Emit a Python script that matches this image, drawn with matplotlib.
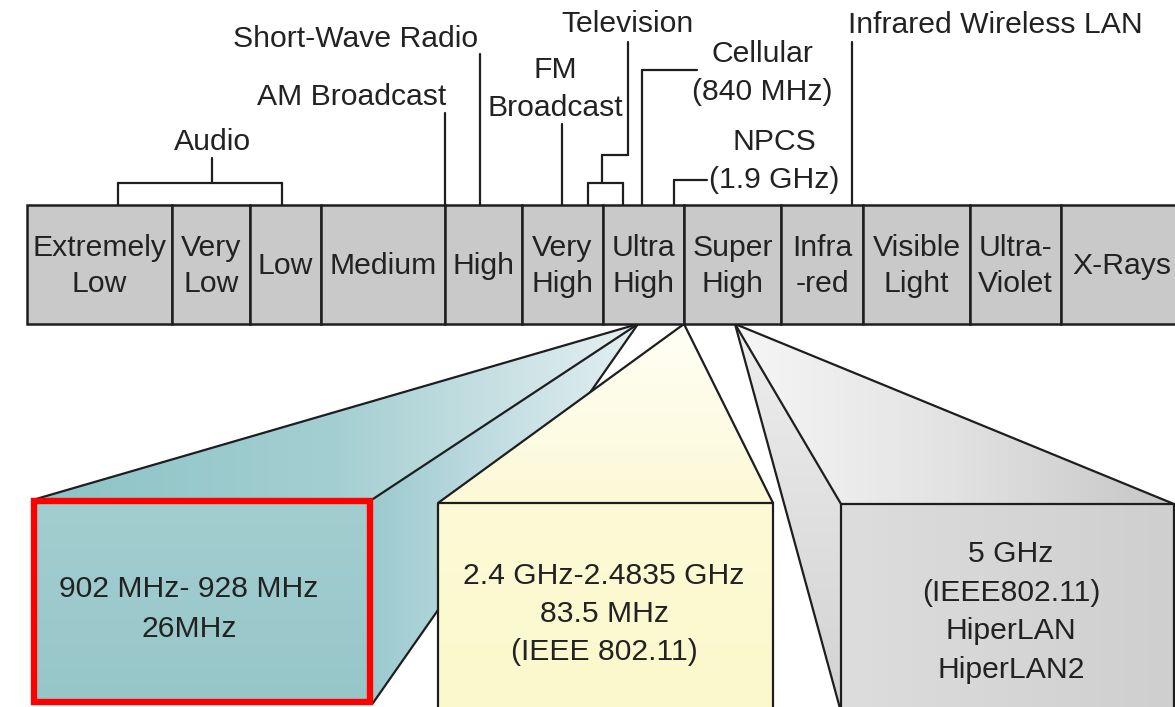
import matplotlib
matplotlib.use("Agg")
import matplotlib.pyplot as plt
import numpy as np
from matplotlib.patches import Polygon, Rectangle
from matplotlib.colors import LinearSegmentedColormap

plt.rcParams['font.family'] = ['Liberation Sans', 'DejaVu Sans']

W, H = 1175, 707
FS = 21.7
TXT = '#222222'
EDGE = '#1e1e1e'

# ---- spectrum bands ----
band_labels = ["Extremely\nLow", "Very\nLow", "Low", "Medium", "High", "Very\nHigh",
               "Ultra\nHigh", "Super\nHigh", "Infra\n-red", "Visible\nLight",
               "Ultra-\nViolet", "X-Rays"]
band_edges = [27, 172, 250, 321, 445, 522, 603, 684, 781, 863, 970, 1061, 1182]
strip_top, strip_bot = 205, 324

# ---- annotations above the strip ----
ann_labels = ["Audio", "AM Broadcast", "Short-Wave Radio", "FM\nBroadcast", "Television",
              "Cellular\n(840 MHz)", "NPCS\n(1.9 GHz)", "Infrared Wireless LAN"]
ann_xy = [(212, 140), (352, 95), (356, 37), (555, 68), (628, 22), (762, 52), (774, 140), (995, 23)]

# ---- zoomed boxes ----
box_texts = [["902 MHz- 928 MHz", "26MHz"],
             ["2.4 GHz-2.4835 GHz", "83.5 MHz", "(IEEE 802.11)"],
             ["5 GHz", "(IEEE802.11)", "HiperLAN", "HiperLAN2"]]

fig = plt.figure(figsize=(W / 100, H / 100), dpi=100)
ax = fig.add_axes([0, 0, 1, 1])


def text_lines(x, yc, lines, spacing=38, **kw):
    n = len(lines)
    y0 = yc - spacing * (n - 1) / 2
    for i, s in enumerate(lines):
        ax.text(x, y0 + i * spacing + 10, s, ha='center', va='baseline', fontsize=FS,
                color=TXT, zorder=20, **kw)


def grad_poly(pts, colors, axis='x', zorder=1):
    pts = np.array(pts, dtype=float)
    x0, x1 = pts[:, 0].min(), pts[:, 0].max()
    y0, y1 = pts[:, 1].min(), pts[:, 1].max()
    cmap = LinearSegmentedColormap.from_list('g', colors)
    if axis == 'x':
        arr = np.linspace(0, 1, 256)[None, :]
    else:
        arr = np.linspace(0, 1, 256)[:, None]
    im = ax.imshow(arr, cmap=cmap, extent=(x0, x1, y1, y0), origin='upper',
                   aspect='auto', zorder=zorder, interpolation='bilinear')
    poly = Polygon(pts, closed=True, facecolor='none', edgecolor='none',
                   transform=ax.transData)
    im.set_clip_path(poly)


def seg(p, q, lw=1.6, z=5, c=EDGE):
    ax.plot([p[0], q[0]], [p[1], q[1]], color=c, lw=lw, zorder=z, solid_capstyle='round')


# ---------------- teal zoom (Ultra High) ----------------
A1 = (638, strip_bot)
tl, tr, br = (36, 499), (373, 499), (373, 703)
grad_poly([A1, tl, tr], ['#8cc3c5', '#a4cfd2', '#e6f0f2'], 'x', zorder=2)
grad_poly([A1, tr, br], ['#9ccacf', '#c4dfe3', '#e4eff2'], 'x', zorder=2)
grad_poly([tl, tr, br, (36, 703)], ['#a3ced0', '#97c6c9'], 'y', zorder=3)
seg(A1, tl, z=4); seg(A1, tr, z=4); seg(A1, br, z=4)

# ---------------- yellow zoom (2.4 GHz) ----------------
A2 = (684, strip_bot)
ytl, ytr = (438, 503), (773, 503)
grad_poly([A2, ytl, ytr], ['#fffff6', '#fcf9d6'], 'y', zorder=6)
grad_poly([ytl, ytr, (773, 712), (438, 712)], ['#fdfbd6', '#fbf8cc'], 'y', zorder=6)
seg(A2, ytl, z=7); seg(A2, ytr, z=7)
ax.add_patch(Rectangle((438, 503), 335, 212, fc='none', ec=EDGE, lw=1.6, zorder=7))

# ---------------- gray zoom (5 GHz) ----------------
A3 = (735, strip_bot)
gtl, gtr, gbl = (841, 504), (1174, 504), (841, 712)
grad_poly([A3, gtl, gtr], ['#f6f6f6', '#e2e2e2', '#c6c6c6'], 'x', zorder=8)
grad_poly([A3, gtl, gbl], ['#eeeeee', '#d2d2d2'], 'y', zorder=8)
grad_poly([gtl, gtr, (1174, 712), gbl], ['#dddddd', '#d6d6d6', '#cfcfcf'], 'x', zorder=8)
seg(A3, gtl, z=9); seg(A3, gtr, z=9); seg(A3, gbl, z=9)
ax.add_patch(Rectangle((841, 504), 333, 210, fc='none', ec=EDGE, lw=1.6, zorder=9))

# red highlight around teal box
ax.add_patch(Rectangle((34, 501), 336, 201, fc='none', ec='#ff0000', lw=4.6,
                       joinstyle='miter', zorder=12))

# box texts
text_lines(189, 607, box_texts[0], spacing=40)
text_lines(604, 612, box_texts[1], spacing=38.5)
text_lines(1011, 610, box_texts[2], spacing=38.7)

# ---------------- spectrum strip ----------------
for i, lab in enumerate(band_labels):
    x0, x1 = band_edges[i], band_edges[i + 1]
    ax.add_patch(Rectangle((x0, strip_top), x1 - x0, strip_bot - strip_top,
                           fc='#c9c9c9', ec=EDGE, lw=1.8, zorder=14))
    text_lines((x0 + x1) / 2, (strip_top + strip_bot) / 2, lab.split('\n'), spacing=36)

# ---------------- annotation labels & leader lines ----------------
for lab, (x, y) in zip(ann_labels, ann_xy):
    text_lines(x, y + 19 * (lab.count('\n')), lab.split('\n'), spacing=38)

lw = 1.6
# Audio bracket
seg((212, 158), (212, 183), lw); seg((118, 183), (282, 183), lw)
seg((118, 183), (118, strip_top), lw); seg((282, 183), (282, strip_top), lw)
# AM broadcast
seg((445, 113), (445, strip_top), lw)
# Short-wave
seg((480, 54), (480, strip_top), lw)
# FM broadcast
seg((562, 124), (562, strip_top), lw)
# Television
seg((628, 42), (628, 155), lw); seg((628, 155), (602, 155), lw)
seg((602, 155), (602, 183), lw); seg((588, 183), (623, 183), lw)
seg((588, 183), (588, strip_top), lw); seg((623, 183), (623, strip_top), lw)
# Cellular
seg((642, 70), (642, strip_top), lw); seg((642, 70), (697, 70), lw)
# NPCS
seg((674, 180), (707, 180), lw); seg((674, 180), (674, strip_top), lw)
# Infrared WLAN
seg((852, 42), (852, strip_top), lw)

ax.set_xlim(0, W)
ax.set_ylim(H, 0)
ax.axis('off')
fig.savefig('out.png', dpi=100, facecolor='white')
